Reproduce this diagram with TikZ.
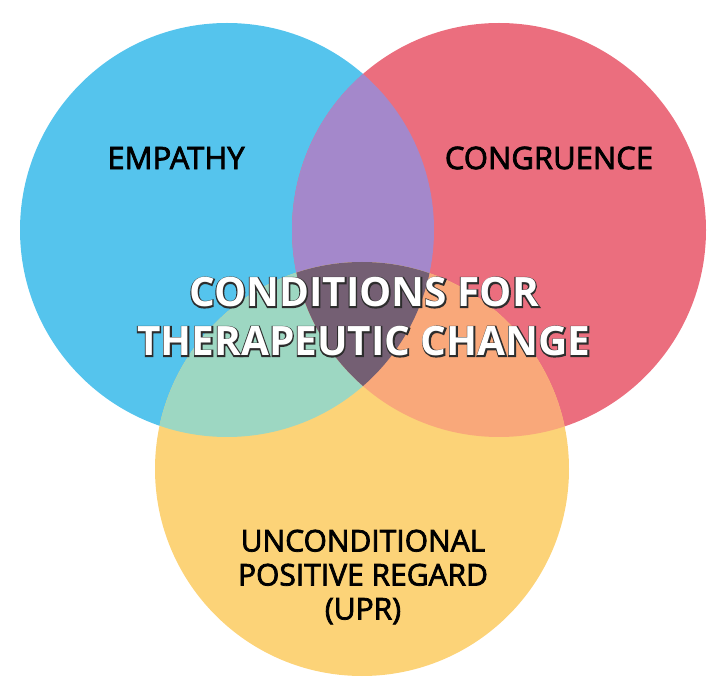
\documentclass[tikz,border=0pt]{standalone}
\usepackage{fontspec}
\setmainfont{Open Sans}
\newfontfamily\labelfont{Open Sans}[FakeBold=2.5]
\newfontfamily\rimfont{Open Sans}[BoldFeatures={FakeBold=6}]
\definecolor{empblue}{RGB}{85,196,237}
\definecolor{conred}{RGB}{235,110,126}
\definecolor{uprgold}{RGB}{252,211,120}
\definecolor{mixpurple}{RGB}{164,136,203}
\definecolor{mixgreen}{RGB}{157,215,194}
\definecolor{mixorange}{RGB}{249,168,122}
\definecolor{mixcore}{RGB}{116,95,115}
\definecolor{rimgray}{RGB}{45,45,45}
\tikzset{
  ringlabel/.style={font=\labelfont\fontsize{31}{34}\selectfont, text=black, align=center, inner sep=0pt},
  uprlabel/.style={font=\labelfont\fontsize{30}{34}\selectfont, text=black, align=center, inner sep=0pt},
  coretext/.style={font=\bfseries\fontsize{40.5}{49}\selectfont, align=center, inner sep=0pt},
  corerim/.style={coretext, font=\rimfont\bfseries\fontsize{40.5}{49}\selectfont, text=rimgray},
}
\newcommand{\rad}{207pt}
\begin{document}
\begin{tikzpicture}[x=1pt,y=-1pt]
  \useasboundingbox (0,0) rectangle (726,700);
  \coordinate (emp) at (227,230);
  \coordinate (con) at (499,230);
  \coordinate (upr) at (362,469);
  \coordinate (mid) at (364,317);
  % the three circles
  \fill[empblue] (emp) circle (\rad);
  \fill[conred] (con) circle (\rad);
  \fill[uprgold] (upr) circle (\rad);
  % overlaps
  \begin{scope}
    \clip (emp) circle (\rad);
    \fill[mixpurple] (con) circle (\rad);
    \fill[mixgreen] (upr) circle (\rad);
  \end{scope}
  \begin{scope}
    \clip (con) circle (\rad);
    \fill[mixorange] (upr) circle (\rad);
    \clip (emp) circle (\rad);
    \fill[mixcore] (upr) circle (\rad);
  \end{scope}
  % labels
  \node[ringlabel] (empathy) at (176,158) {EMPATHY};
  \node[ringlabel] (congruence) at (549,158) {CONGRUENCE};
  \node[uprlabel] (regard) at (363,577) {UNCONDITIONAL\\POSITIVE REGARD\\(UPR)};
  % outlined title
  \node[corerim] (rim) at (mid) {CONDITIONS FOR\\THERAPEUTIC CHANGE};
  \node[coretext, text=white] (title) at (mid) {CONDITIONS FOR\\THERAPEUTIC CHANGE};
\end{tikzpicture}
\end{document}
